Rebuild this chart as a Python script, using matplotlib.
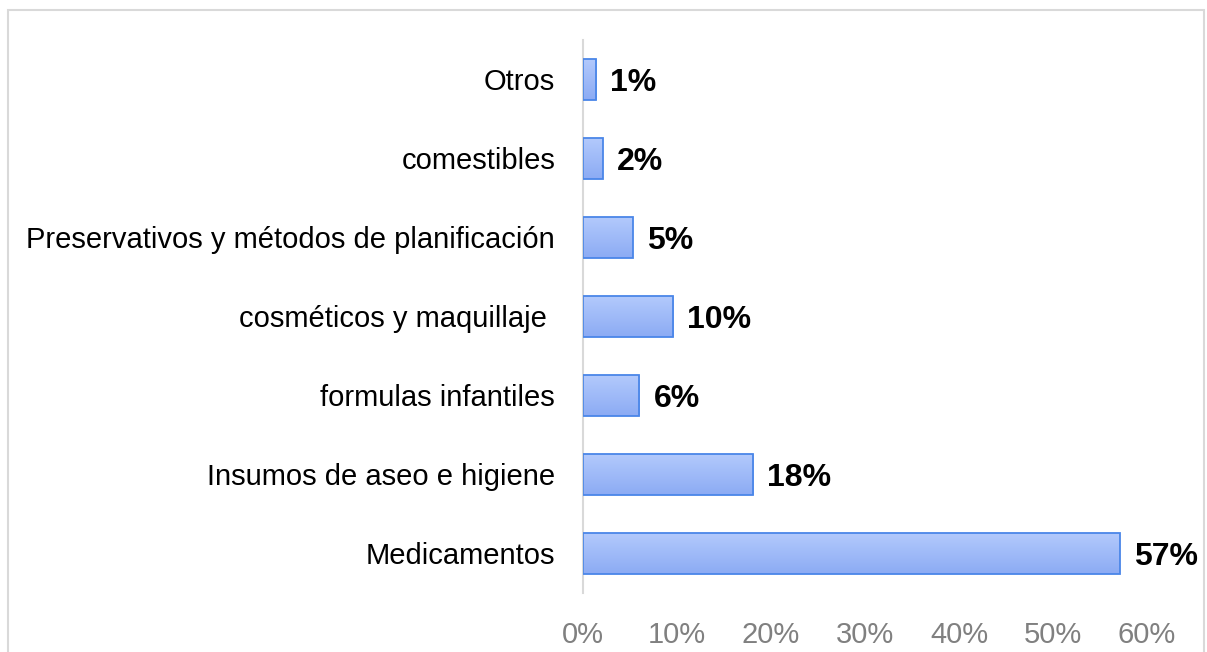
import numpy as np
import matplotlib
matplotlib.use('Agg')
import matplotlib.pyplot as plt
from matplotlib.patches import Rectangle
from matplotlib.colors import LinearSegmentedColormap

plt.rcParams['font.family'] = ['Liberation Sans', 'DejaVu Sans']

categories = ['Medicamentos', 'Insumos de aseo e higiene', 'formulas infantiles',
              'cosméticos y maquillaje ', 'Preservativos y métodos de planificación',
              'comestibles', 'Otros']
values = [0.571, 0.181, 0.060, 0.096, 0.053, 0.021, 0.014]
labels = ['57%', '18%', '6%', '10%', '5%', '2%', '1%']
xticks = [0, 0.1, 0.2, 0.3, 0.4, 0.5, 0.6]
xtick_labels = ['0%', '10%', '20%', '30%', '40%', '50%', '60%']

fig = plt.figure(figsize=(12.07, 6.52), dpi=100)
ax = fig.add_axes([0.483, 0.0905, 0.4673, 0.8482])

y = np.arange(len(categories))
bars = ax.barh(y, values, height=0.52, color='#9fbaf8', edgecolor='#4a86e8', linewidth=1.3, zorder=3)

# gradient fill inside each bar
cmap = LinearSegmentedColormap.from_list('g', ['#8cabf4', '#b3cafc'])
grad = np.linspace(0, 1, 64).reshape(-1, 1)
for b in bars:
    x0, y0, w, h = b.get_x(), b.get_y(), b.get_width(), b.get_height()
    im = ax.imshow(grad, cmap=cmap, aspect='auto', origin='lower',
                   extent=[x0, x0 + w, y0, y0 + h], zorder=2)
    im.set_clip_path(b)
    b.set_facecolor('none')

for yi, v, lab in zip(y, values, labels):
    ax.text(v + 0.015, yi - 0.05, lab, va='center', ha='left', fontsize=23,
            fontweight='bold', color='black', clip_on=False)

ax.set_xlim(0, 0.6)
ax.set_ylim(-0.5, len(categories) - 0.5)
ax.set_xticks(xticks)
ax.set_xticklabels(xtick_labels, color='#808080', fontsize=21)
ax.set_yticks(y)
ax.set_yticklabels(categories, fontsize=21, color='black')
ax.tick_params(axis='both', length=0)
ax.tick_params(axis='x', pad=20)
ax.tick_params(axis='y', pad=20)
for s in ['top', 'right', 'bottom']:
    ax.spines[s].set_visible(False)
ax.spines['left'].set_color('#d9d9d9')
ax.spines['left'].set_linewidth(1.5)

# outer chart frame
fig.patches.append(Rectangle((8 / 1207, -0.1), (1204 - 8) / 1207, 1.1 - 10 / 652,
                             transform=fig.transFigure, fill=False,
                             edgecolor='#d9d9d9', linewidth=1.5))

fig.savefig('out.png', dpi=100)
